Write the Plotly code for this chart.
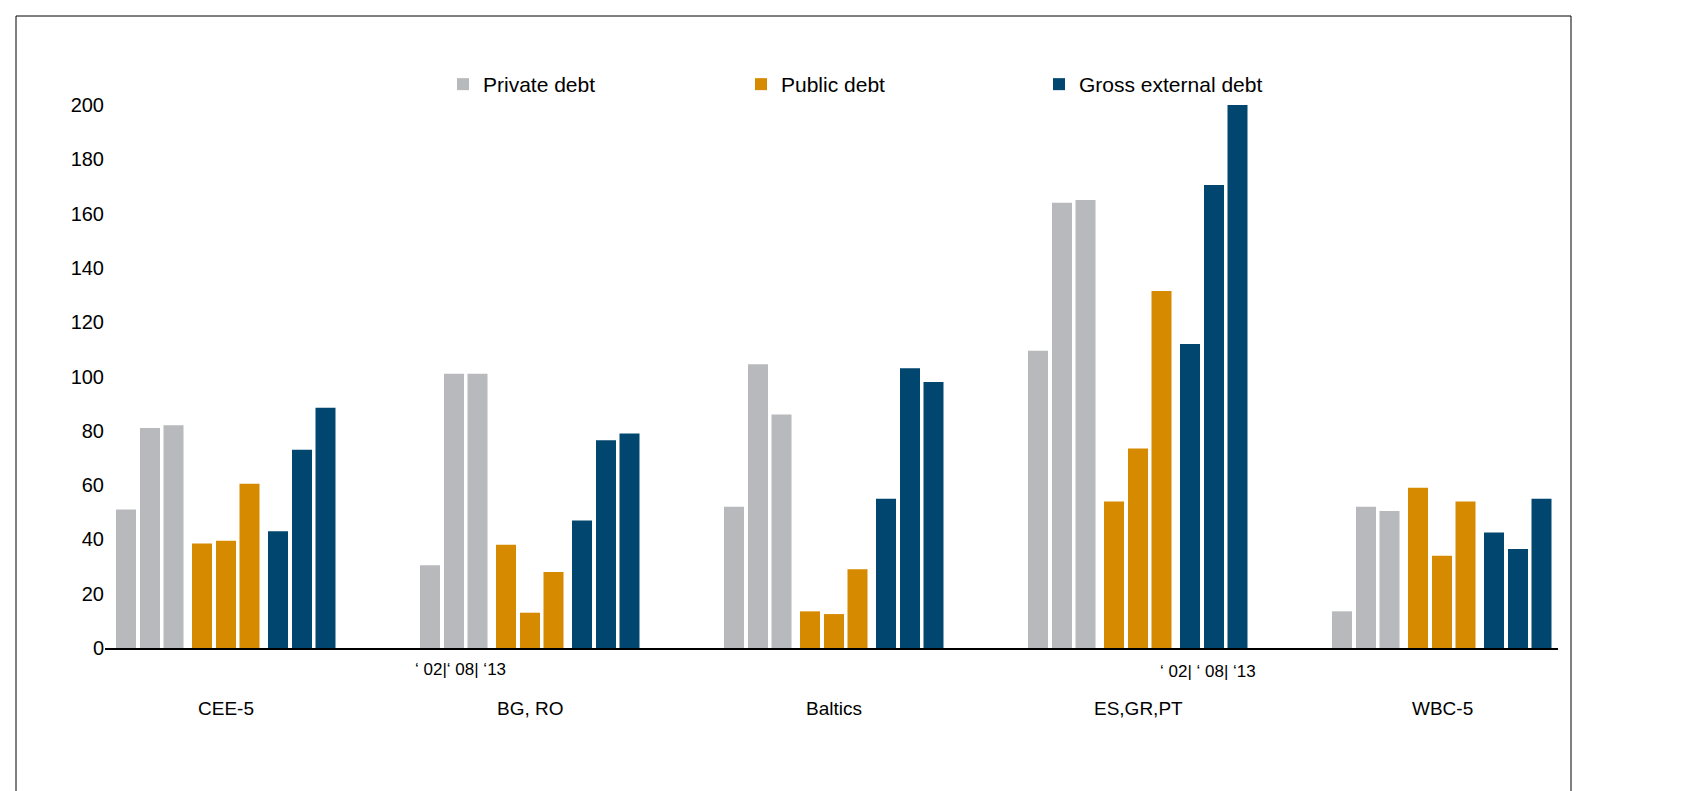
import plotly.graph_objects as go

groups = ["CEE-5", "BG, RO", "Baltics", "ES,GR,PT", "WBC-5"]
years = ["2002", "2008", "2013"]
private_debt = [[51, 81, 82], [30.5, 101, 101], [52, 104.5, 86], [109.5, 164, 165], [13.5, 52, 50.5]]
public_debt = [[38.5, 39.5, 60.5], [38, 13, 28], [13.5, 12.5, 29], [54, 73.5, 131.5], [59, 34, 54]]
gross_ext_debt = [[43, 73, 88.5], [47, 76.5, 79], [55, 103, 98], [112, 170.5, 200], [42.5, 36.5, 55]]

W, H = 1700, 791
L, R, T, B = 97, 1550, 97, 640
group_step = 304
first_bar = 118
bar_offsets = [0, 24, 47.5]
series_offsets = [0, 76, 152]

series = [
    ("Private debt", private_debt, "#b8b9bd"),
    ("Public debt", public_debt, "#d68a00"),
    ("Gross external debt", gross_ext_debt, "#00466e"),
]

fig = go.Figure()
for si, (name, vals, color) in enumerate(series):
    xs, ys = [], []
    for g in range(len(groups)):
        for k in range(3):
            xs.append(first_bar + g * group_step + series_offsets[si] + bar_offsets[k])
            ys.append(vals[g][k])
    fig.add_trace(go.Bar(x=xs, y=ys, name=name, marker=dict(color=color, line=dict(width=0)),
                         width=20, hovertemplate=name + ": %{y}<extra></extra>"))

annotations = []
for g, name in enumerate(groups):
    cx = first_bar + g * group_step + 100
    annotations.append(dict(x=cx, y=0, xref="x", yref="y", yshift=-60, text=name, showarrow=False,
                            font=dict(size=19, color="black")))
annotations.append(dict(x=first_bar + group_step + 30, y=0, xref="x", yref="y", yshift=-21,
                        text="‘ 02|‘ 08| ‘13", showarrow=False, font=dict(size=17, color="black")))
annotations.append(dict(x=first_bar + 3 * group_step + 170, y=0, xref="x", yref="y", yshift=-23,
                        text="‘ 02| ‘ 08| ‘13", showarrow=False, font=dict(size=17, color="black")))

fig.update_layout(
    width=W, height=H,
    margin=dict(l=L, r=W - R, t=T, b=H - B),
    plot_bgcolor="white", paper_bgcolor="white",
    font=dict(family="Liberation Sans, Arial, sans-serif", size=20, color="black"),
    barmode="overlay",
    xaxis=dict(range=[L, R], showticklabels=False, showgrid=False, zeroline=False,
               showline=True, linecolor="black", linewidth=1.5, ticks=""),
    yaxis=dict(range=[0, 200], dtick=20, showgrid=False, zeroline=False, showline=False,
               ticks="", tickfont=dict(size=20)),
    legend=dict(orientation="h", x=(435 - L) / (R - L), y=1.0, xanchor="left", yanchor="bottom",
                font=dict(size=21), itemwidth=30, entrywidth=253, entrywidthmode="pixels",
                bgcolor="rgba(0,0,0,0)"),
    annotations=annotations,
    shapes=[dict(type="rect", xref="paper", yref="paper",
                 x0=(8 - L) / (R - L), x1=(1563 - L) / (R - L),
                 y0=(B - 788) / (B - T), y1=(B - 8) / (B - T),
                 line=dict(color="black", width=1))],
)

fig.write_html("out.html")
